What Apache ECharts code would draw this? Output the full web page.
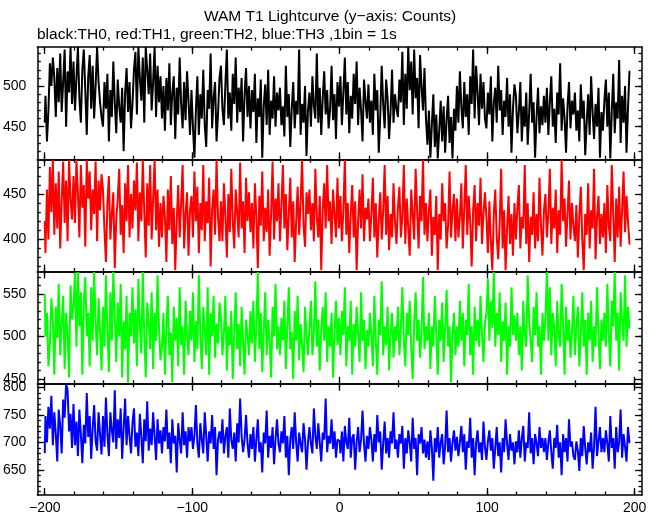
<!DOCTYPE html>
<html><head><meta charset="utf-8">
<script src="https://cdn.jsdelivr.net/npm/echarts@6/dist/echarts.min.js"></script>
<style>html,body{margin:0;padding:0;background:#fff}#c{width:660px;height:515px}</style>
</head><body><div id="c"></div>
<script>
const titleText = 'WAM T1 Lightcurve (y\u2212axis: Counts)';
const subtitleText = 'black:TH0, red:TH1, green:TH2, blue:TH3 ,1bin = 1s';
const binStart = -200;   // time of first 1-s bin
const xRange = [-205, 205];
const xMajorTicks = [-200, -100, 0, 100, 200];
const xMinorTicks = [-200,-180,-160,-140,-120,-100,-80,-60,-40,-20,0,20,40,60,80,100,120,140,160,180,200];

const th0 = [
455,488,432,470,528,500,535,510,462,522,480,540,468,505,545,450,518,492,548,478,
530,470,510,548,485,455,520,545,495,440,512,538,472,525,460,500,548,505,480,462,
450,505,472,515,432,495,462,530,480,442,508,475,455,498,420,490,522,468,505,448,
478,520,542,465,548,510,482,535,455,548,520,490,540,470,505,548,462,525,480,512,
460,500,445,510,470,528,452,492,512,435,498,465,535,478,448,505,458,518,482,440,
495,450,412,470,512,440,490,460,520,452,425,495,472,540,448,485,505,432,465,510,
525,472,452,502,545,460,492,445,515,478,535,455,498,468,510,432,488,522,462,500,
448,495,468,515,430,485,462,508,412,475,502,452,520,440,482,460,512,450,492,470,
498,452,475,438,525,462,490,425,472,505,448,482,465,545,440,478,455,500,414,470,
492,450,512,475,460,540,455,498,440,485,518,465,495,448,472,525,458,490,435,505,
475,512,452,492,535,465,505,442,488,460,515,478,530,452,498,470,432,508,482,460,
502,455,482,440,515,470,495,418,462,525,478,448,508,485,435,468,520,455,490,472,
462,508,480,542,452,515,472,548,495,530,465,545,485,510,448,538,500,470,522,460,
428,470,412,452,490,425,465,411,445,482,432,475,418,458,488,430,462,411,472,445,
500,455,518,475,448,505,462,490,440,512,478,545,460,525,492,452,515,472,505,460,
448,492,465,512,432,478,498,455,525,470,495,440,482,462,510,450,490,418,472,502,
488,442,468,505,432,475,450,492,428,468,515,455,480,412,462,498,442,475,452,488,
455,498,440,480,512,450,472,430,492,465,528,445,485,460,418,475,505,448,482,465,
492,445,470,432,502,460,482,415,455,490,440,512,468,435,478,450,498,412,468,445,
482,508,450,492,411,468,515,442,480,460,532,430,488,455,500,418,472,518];

const th1 = [
420,385,455,400,480,430,488,405,462,412,475,390,442,486,418,465,398,488,445,422,
470,418,488,450,402,482,435,460,392,488,445,475,410,455,428,486,398,465,432,472,
455,410,375,440,470,400,428,452,368,422,445,478,405,438,385,462,420,482,402,450,
412,465,432,485,398,452,420,488,430,380,462,415,482,400,445,488,410,455,392,440,
402,448,425,375,455,410,470,395,435,366,420,460,402,440,482,390,428,452,382,432,
448,402,475,420,458,385,440,410,482,398,442,418,468,370,432,455,405,488,425,398,
442,398,462,425,380,450,408,478,420,390,455,430,402,485,412,442,385,468,420,452,
408,440,390,462,425,368,448,415,475,398,435,408,455,382,428,486,400,445,420,462,
398,438,482,412,450,388,428,468,402,442,375,420,458,405,440,488,415,392,452,428,
455,410,440,398,478,425,402,448,366,432,462,412,482,420,442,395,455,428,402,468,
412,448,398,432,488,405,440,385,428,460,402,442,366,420,455,412,472,398,435,422,
445,398,428,468,402,440,380,422,452,400,432,482,405,448,388,428,402,462,420,395,
435,458,402,425,482,395,445,412,382,455,428,400,478,432,390,448,420,488,405,440,
398,432,455,382,425,405,448,366,428,400,462,420,440,390,415,475,402,432,450,398,
445,402,425,462,390,435,482,405,448,420,370,432,460,398,440,415,468,395,428,452,
425,385,442,398,366,428,455,402,378,418,478,390,432,366,412,448,395,428,382,440,
400,435,460,390,425,412,482,395,440,375,425,405,452,390,428,398,468,415,382,432,
450,402,428,478,395,435,412,455,385,432,405,488,420,445,392,428,465,400,440,415,
398,438,380,425,458,400,366,428,405,462,390,432,412,478,378,425,448,395,428,402,
440,385,460,415,398,482,428,375,445,402,458,392,432,475,408,448,420,395];

const th2 = [
550,500,528,465,492,545,518,455,535,498,562,478,515,548,462,528,502,452,560,520,
535,575,488,576,512,552,455,540,570,500,528,465,558,495,576,518,478,545,508,460,
535,488,572,508,458,552,495,576,525,470,540,500,562,452,518,485,548,446,528,500,
558,492,532,465,568,512,480,576,500,452,540,518,485,552,462,528,495,572,510,472,
488,528,455,512,548,478,505,446,535,495,522,465,558,490,512,455,542,502,478,530,
495,552,470,518,485,572,502,462,535,508,478,558,455,528,500,548,475,515,492,540,
522,478,505,548,460,512,490,530,450,505,552,485,515,465,535,495,455,520,502,478,
530,492,542,470,512,576,485,528,458,505,552,478,520,495,452,535,500,562,485,512,
478,522,495,542,462,512,558,485,505,450,530,495,548,472,515,490,458,535,502,478,
512,542,478,505,565,488,520,460,508,535,495,552,470,512,488,528,452,505,542,490,
522,478,530,502,558,465,512,495,542,455,515,488,535,502,470,552,495,520,462,508,
488,528,502,465,548,495,455,520,502,565,478,512,490,535,460,505,528,475,512,495,
535,478,512,558,495,465,528,502,542,488,450,515,552,495,520,475,505,570,485,512,
495,528,462,512,488,548,502,455,520,495,540,470,508,555,488,512,446,502,528,478,
512,488,542,495,528,465,520,502,562,478,512,455,535,495,520,488,548,502,470,515,
528,568,495,542,510,576,488,528,502,552,470,518,495,540,455,512,488,558,502,525,
495,528,478,512,460,542,502,488,572,518,495,470,535,502,552,488,512,455,528,495,
520,576,495,558,478,528,510,465,542,502,488,562,512,455,535,495,520,475,505,548,
478,512,535,465,502,552,488,520,455,528,495,542,470,512,488,558,502,462,520,495,
528,488,562,502,465,542,512,576,495,528,460,552,518,495,572,488,535,510];

const th3 = [
680,748,700,765,725,785,695,755,715,665,760,730,680,778,745,807,795,720,752,690,
770,695,738,675,760,715,662,732,698,790,710,748,670,725,768,702,685,755,715,678,
748,692,782,715,675,755,722,700,795,688,742,708,762,670,725,780,695,748,712,680,
735,762,692,718,675,752,710,662,742,702,775,685,725,695,755,712,668,742,698,722,
680,728,702,760,688,718,662,742,698,712,645,735,705,680,755,695,720,672,728,702,
728,688,712,768,698,672,735,705,680,755,712,665,720,698,750,688,728,640,705,720,
698,742,680,712,728,672,762,705,688,718,665,735,700,780,712,682,705,750,698,672,
715,688,728,665,705,742,682,700,645,718,698,758,672,712,690,728,660,705,742,698,
682,720,698,748,672,712,640,705,728,688,755,700,665,718,698,682,735,705,650,700,
728,698,680,762,712,688,735,700,665,718,705,780,682,712,698,742,688,720,672,705,
702,680,720,665,730,700,688,745,672,708,715,650,700,728,682,705,758,698,665,712,
688,728,705,665,715,682,750,700,720,650,698,738,680,708,672,720,698,755,688,705,
672,715,698,730,652,708,680,722,700,665,745,688,708,640,715,698,728,680,705,672,
702,668,722,690,630,708,682,728,672,700,715,660,692,758,682,708,665,700,722,685,
710,675,700,730,682,715,650,702,690,745,672,708,640,700,722,682,700,668,738,692,
668,702,722,685,708,652,690,728,675,700,645,708,682,742,698,668,715,685,700,660,
702,682,722,672,708,730,665,700,690,755,680,708,660,715,698,675,728,690,708,682,
708,668,700,722,682,652,708,690,732,672,700,640,715,682,708,665,742,692,702,675,
668,702,685,648,708,675,730,690,660,700,682,718,652,692,765,675,702,728,682,708,
682,722,698,665,748,690,708,652,728,682,700,760,672,715,692,665,728,700];

const panelSeries = [th0, th1, th2, th3];
const panelColors = ['#000000', '#ff0000', '#00ff00', '#0000ff'];
const panelYRange = [[410, 548], [364.5, 488.5], [444.5, 576.5], [604, 807]];
const panelYMajor = [[450, 500], [400, 450], [450, 500, 550], [650, 700, 750, 800]];
const panelYMinor = [
  [420,430,440,450,460,470,480,490,500,510,520,530,540],
  [370,380,390,400,410,420,430,440,450,460,470,480],
  [450,460,470,480,490,500,510,520,530,540,550,560,570],
  [610,620,630,640,650,660,670,680,690,700,710,720,730,740,750,760,770,780,790,800]
];

const FONT = 'Liberation Sans, Helvetica, Arial, sans-serif';
const gridTop = 47, gridH = 112.25;
const grids = [], xAxes = [], yAxes = [], series = [];

function fmt(v) { return String(v).replace('-', '\u2212'); }

panelSeries.forEach((vals, p) => {
  grids.push({ left: 37, right: 18, top: gridTop + p * gridH, height: gridH, containLabel: false });
  const lineStyle = { color: '#000', width: 1.5 };
  const mk = (pos, major, labels, isX) => ({
    gridIndex: p, type: 'value', position: pos,
    min: isX ? xRange[0] : panelYRange[p][0],
    max: isX ? xRange[1] : panelYRange[p][1],
    axisLine: { show: major, onZero: false, lineStyle },
    splitLine: { show: false },
    axisTick: { show: true, inside: true, length: major ? 7 : 3.5, lineStyle: { color: '#000', width: 1.3 },
      customValues: isX ? (major ? xMajorTicks : xMinorTicks) : (major ? panelYMajor[p] : panelYMinor[p]) },
    axisLabel: { show: labels, color: '#000', fontFamily: FONT, fontSize: 14,
      margin: isX ? 6 : 11, formatter: fmt,
      customValues: isX ? xMajorTicks : panelYMajor[p] }
  });
  xAxes.push(mk('bottom', true, p === 3, true));
  xAxes.push(mk('bottom', false, false, true));
  xAxes.push(mk('top', true, false, true));
  xAxes.push(mk('top', false, false, true));
  yAxes.push(mk('left', true, true, false));
  yAxes.push(mk('left', false, false, false));
  yAxes.push(mk('right', true, false, false));
  yAxes.push(mk('right', false, false, false));
  series.push({
    type: 'line', xAxisIndex: p * 4, yAxisIndex: p * 4,
    step: 'middle', showSymbol: false, symbol: 'none', clip: true,
    lineStyle: { color: panelColors[p], width: 2 },
    data: vals.map((v, i) => [binStart + i, v])
  });
});

const chart = echarts.init(document.getElementById('c'), null, { renderer: 'canvas' });
chart.setOption({
  animation: false,
  backgroundColor: '#fff',
  title: [
    { text: titleText, left: 'center', top: 9, padding: 0,
      textStyle: { fontFamily: FONT, fontSize: 15.5, fontWeight: 'normal', color: '#000' } },
    { text: subtitleText, left: 37, top: 27, padding: 0,
      textStyle: { fontFamily: FONT, fontSize: 15.5, fontWeight: 'normal', color: '#000' } }
  ],
  grid: grids, xAxis: xAxes, yAxis: yAxes, series
});
</script>
</body></html>
